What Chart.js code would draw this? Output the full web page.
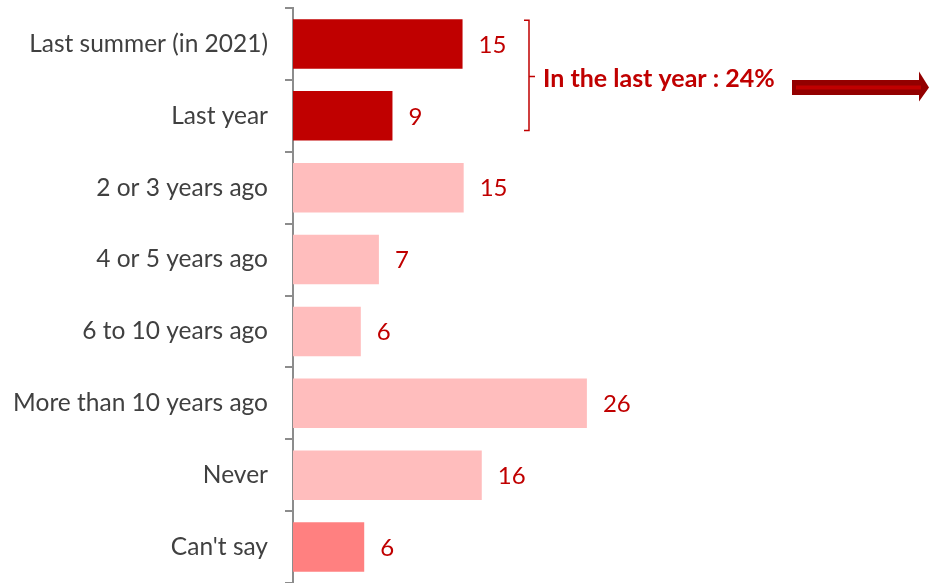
<!DOCTYPE html>
<html>
<head>
<meta charset="utf-8">
<script src="https://cdn.jsdelivr.net/npm/chart.js@4.4.0/dist/chart.umd.min.js"></script>
<style>
  html, body { margin: 0; padding: 0; background: #fff; }
  #wrap { width: 929px; height: 583px; position: relative; }
</style>
</head>
<body>
<div id="wrap"><canvas id="barChart"></canvas></div>
<script>
const categories = ['Last summer (in 2021)', 'Last year', '2 or 3 years ago', '4 or 5 years ago',
  '6 to 10 years ago', 'More than 10 years ago', 'Never', "Can't say"]
// bar lengths
const values = [15, 8.8, 15.1, 7.6, 6, 26, 16.7, 6.3]
// numbers printed next to the bars
const shownValues = ['15', '9', '15', '7', '6', '26', '16', '6']
const barColors = ['#C00000', '#C00000', '#FFBDBD', '#FFBDBD', '#FFBDBD', '#FFBDBD', '#FFBDBD', '#FF8080']
const bracketText = 'In the last year : 24%'

// value labels next to each bar
const valueLabels = {
  id: 'valueLabels',
  afterDatasetsDraw(chart) {
    const ctx = chart.ctx
    const meta = chart.getDatasetMeta(0)
    ctx.save()
    ctx.font = '24px Lato'
    ctx.fillStyle = '#C00000'
    ctx.textBaseline = 'middle'
    meta.data.forEach((bar, i) => {
      ctx.fillText(shownValues[i], bar.x + 16, bar.y + 1)
    })
    ctx.restore()
  }
}

// bracket + text + arrow for the first two bars
const bracket = {
  id: 'bracket',
  afterDraw(chart) {
    const ctx = chart.ctx
    const meta = chart.getDatasetMeta(0)
    const top = meta.data[0].y - meta.data[0].height / 2 + 1
    const bottom = meta.data[1].y + meta.data[1].height / 2 - 10
    const mid = (top + bottom) / 2 + 1
    const bx = 529
    ctx.save()
    ctx.strokeStyle = '#C00000'
    ctx.lineWidth = 1.5
    ctx.beginPath()
    ctx.moveTo(bx - 5, top)
    ctx.lineTo(bx, top)
    ctx.lineTo(bx, bottom)
    ctx.lineTo(bx - 5, bottom)
    ctx.moveTo(bx, mid)
    ctx.lineTo(bx + 6, mid)
    ctx.stroke()

    ctx.font = 'bold 25px Lato'
    ctx.fillStyle = '#C00000'
    ctx.textBaseline = 'middle'
    ctx.fillText(bracketText, 543, mid + 3)

    // arrow
    const ay = 87.5
    const x0 = 792, x1 = 929, head = 10
    ctx.fillStyle = '#930000'
    ctx.beginPath()
    ctx.moveTo(x0, ay - 7.5)
    ctx.lineTo(x1 - head, ay - 7.5)
    ctx.lineTo(x1 - head, ay - 16)
    ctx.lineTo(x1, ay)
    ctx.lineTo(x1 - head, ay + 14)
    ctx.lineTo(x1 - head, ay + 7.5)
    ctx.lineTo(x0, ay + 7.5)
    ctx.closePath()
    ctx.fill()
    ctx.fillStyle = '#C00000'
    ctx.fillRect(x0 + 4, ay - 2, x1 - head - x0 - 2, 4)
    ctx.restore()
  }
}

new Chart(document.getElementById('barChart'), {
  type: 'bar',
  data: {
    labels: categories,
    datasets: [{
      data: values,
      backgroundColor: barColors,
      barPercentage: 0.69,
      categoryPercentage: 1
    }]
  },
  options: {
    indexAxis: 'y',
    responsive: true,
    maintainAspectRatio: false,
    animation: false,
    layout: { padding: { top: 8, right: 3, bottom: -1, left: 0 } },
    plugins: { legend: { display: false }, tooltip: { enabled: false } },
    scales: {
      x: {
        min: 0,
        max: 56,
        display: false
      },
      y: {
        afterFit(scale) {
          scale.width = 293
          scale.paddingTop = 0
          scale.paddingBottom = 0
        },
        border: { display: true, color: '#8C8C8C', width: 2 },
        grid: {
          drawOnChartArea: false,
          drawTicks: true,
          tickLength: 8,
          color: '#8C8C8C',
          lineWidth: 2
        },
        ticks: {
          color: '#404040',
          font: { family: 'Lato', size: 24.5 },
          padding: 17
        }
      }
    }
  },
  plugins: [valueLabels, bracket]
})
</script>
</body>
</html>
